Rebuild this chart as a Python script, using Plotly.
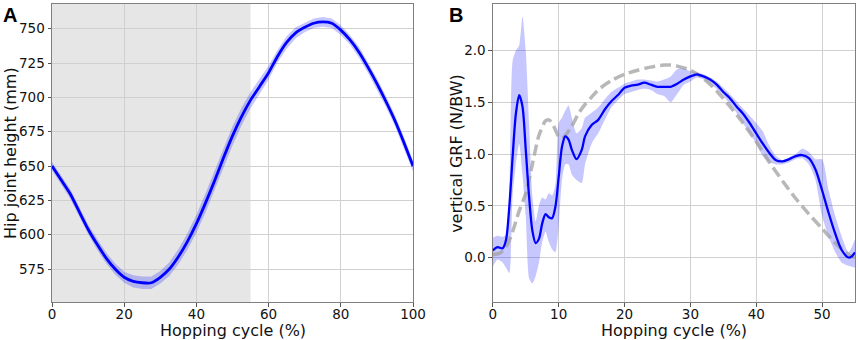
import plotly.graph_objects as go

# ---------- Panel A: hip joint height ----------
cycle_a = [0, 2.5, 5, 7.5, 10, 12.5, 15, 17.5, 20, 22.5, 25, 27.5, 30, 32.5, 35, 37.5, 40,
           42.5, 45, 47.5, 50, 52.5, 55, 57.5, 60, 62.5, 65, 67.5, 70, 72.5, 75, 77.5, 80,
           82.5, 85, 87.5, 90, 92.5, 95, 97.5, 100]
hip_mean = [650, 640, 630, 617, 604, 593, 583, 575, 569, 566, 565, 565, 569, 575, 584, 595, 608,
            623, 639, 656, 672, 686, 698, 708, 718, 730, 740, 747, 751, 754, 755, 754, 749,
            742, 733, 722, 710, 697, 683, 667, 650]
hip_sd = [3, 3, 3.5, 3.5, 3.5, 4, 4, 4, 4, 4.5, 4.5, 4.5, 4.5, 5, 5.5, 6, 6.5,
          7, 7, 7, 7, 6.5, 6, 5.5, 5, 4.5, 4.5, 4, 3.5, 3.5, 3.5, 3.5, 3.5,
          3.5, 4, 4, 4, 4, 4, 4, 4]

# ---------- Panel B: vertical GRF ----------
cycle_b = [0, 0.7, 1.5, 2, 2.5, 3, 3.5, 4, 4.5, 5, 5.5, 6, 6.5, 7, 7.5, 8, 8.5, 9, 9.5, 10,
           10.5, 11, 11.5, 12, 12.7, 13.5, 14, 15, 16, 17, 18, 19, 20, 21, 22, 23, 24, 25,
           26, 27, 28, 29, 30, 31, 32, 33, 34, 35, 36, 37, 38, 39, 40, 41, 42, 43, 44, 45,
           46, 47, 48, 49, 50, 51, 52, 53, 54, 54.5, 55]
grf_mean = [0.07, 0.10, 0.09, 0.17, 0.49, 0.97, 1.39, 1.57, 1.46, 1.04, 0.59, 0.26, 0.14, 0.18,
            0.33, 0.42, 0.39, 0.38, 0.49, 0.78, 1.07, 1.17, 1.14, 1.04, 0.95, 1.04, 1.17, 1.28,
            1.33, 1.43, 1.51, 1.57, 1.64, 1.66, 1.67, 1.69, 1.67, 1.65, 1.65, 1.65, 1.68, 1.72,
            1.75, 1.77, 1.75, 1.72, 1.67, 1.60, 1.54, 1.46, 1.39, 1.30, 1.20, 1.10, 1.01, 0.94,
            0.93, 0.95, 0.98, 0.99, 0.96, 0.85, 0.65, 0.43, 0.23, 0.07, 0.00, 0.01, 0.05]
grf_upper = [0.19, 0.21, 0.20, 0.22, 0.60, 1.90, 2.00, 2.05, 2.33, 2.00, 1.30, 0.60, 0.35, 0.50,
             0.58, 0.56, 0.62, 0.60, 0.70, 1.30, 1.35, 1.42, 1.47, 1.35, 1.20, 1.25, 1.35, 1.40,
             1.45, 1.53, 1.60, 1.64, 1.68, 1.70, 1.72, 1.72, 1.71, 1.70, 1.72, 1.75, 1.82, 1.83,
             1.80, 1.79, 1.77, 1.74, 1.70, 1.64, 1.58, 1.51, 1.44, 1.37, 1.30, 1.22, 1.08, 0.98,
             0.94, 0.97, 1.00, 1.05, 1.02, 0.95, 0.95, 0.65, 0.40, 0.20, 0.05, 0.10, 0.18]
grf_lower = [-0.09, -0.02, -0.05, -0.10, -0.15, 0.60, 0.90, 1.10, 0.80, 0.40, -0.20, -0.25, -0.18,
             -0.05, 0.15, 0.25, 0.15, 0.08, 0.05, 0.30, 0.75, 0.90, 0.90, 0.80, 0.75, 0.72, 0.90,
             1.10, 1.20, 1.33, 1.45, 1.52, 1.58, 1.60, 1.62, 1.63, 1.62, 1.58, 1.56, 1.50, 1.58,
             1.67, 1.70, 1.74, 1.72, 1.68, 1.63, 1.56, 1.48, 1.40, 1.30, 1.20, 1.10, 0.98, 0.92,
             0.90, 0.90, 0.92, 0.95, 0.96, 0.90, 0.75, 0.40, 0.20, 0.05, -0.05, -0.08, -0.09, -0.10]

model_x = [0, 1, 2, 3, 4, 5, 6, 7, 8, 8.5, 9, 10, 10.5, 11, 12, 13, 14, 15, 16, 18, 20, 22, 24,
           26, 27, 28, 30, 32, 34, 36, 38, 40, 42, 44, 46, 48, 50, 52, 54, 55]
model_grf = [0.03, 0.04, 0.10, 0.25, 0.45, 0.62, 0.90, 1.18, 1.32, 1.33, 1.30, 1.17, 1.15, 1.18,
             1.27, 1.39, 1.48, 1.55, 1.62, 1.71, 1.77, 1.81, 1.84, 1.86, 1.86, 1.85, 1.81, 1.73,
             1.61, 1.46, 1.30, 1.12, 0.92, 0.74, 0.57, 0.42, 0.28, 0.14, 0.03, 0.00]

BLUE = "#0000ff"
BAND = "rgba(0,0,255,0.22)"

fig = go.Figure()

# Panel A band
hip_up = [m + s for m, s in zip(hip_mean, hip_sd)]
hip_lo = [m - s for m, s in zip(hip_mean, hip_sd)]
fig.add_trace(go.Scatter(x=cycle_a, y=hip_up, mode="lines", line=dict(width=0),
                         showlegend=False, hoverinfo="skip", xaxis="x", yaxis="y"))
fig.add_trace(go.Scatter(x=cycle_a, y=hip_lo, mode="lines", line=dict(width=0),
                         fill="tonexty", fillcolor=BAND, showlegend=False,
                         hoverinfo="skip", xaxis="x", yaxis="y"))
fig.add_trace(go.Scatter(x=cycle_a, y=hip_mean, mode="lines",
                         line=dict(color=BLUE, width=2.8, shape="spline", smoothing=0.5),
                         showlegend=False, xaxis="x", yaxis="y"))

# Panel B band
fig.add_trace(go.Scatter(x=cycle_b, y=grf_upper, mode="lines",
                         line=dict(width=0, shape="spline", smoothing=0.6),
                         showlegend=False, hoverinfo="skip", xaxis="x2", yaxis="y2"))
fig.add_trace(go.Scatter(x=cycle_b, y=grf_lower, mode="lines",
                         line=dict(width=0, shape="spline", smoothing=0.6),
                         fill="tonexty", fillcolor=BAND, showlegend=False,
                         hoverinfo="skip", xaxis="x2", yaxis="y2"))
fig.add_trace(go.Scatter(x=model_x, y=model_grf, mode="lines",
                         line=dict(color="rgba(160,160,160,0.75)", width=3.5,
                                   dash="11px,5px", shape="spline", smoothing=0.8),
                         showlegend=False, xaxis="x2", yaxis="y2"))
fig.add_trace(go.Scatter(x=cycle_b, y=grf_mean, mode="lines",
                         line=dict(color=BLUE, width=2.3, shape="spline", smoothing=0.8),
                         showlegend=False, xaxis="x2", yaxis="y2"))

FONT = "DejaVu Sans"
axis_common = dict(showgrid=True, gridcolor="#d0d0d0", gridwidth=1,
                   showline=True, linecolor="#7f7f7f", linewidth=1, mirror=True,
                   ticks="outside", ticklen=3.5, tickcolor="#555555",
                   tickfont=dict(family=FONT, size=13.5, color="#111111"),
                   zeroline=False, automargin=False)
xtick_extra = dict(ticklabelstandoff=-4)

fig.update_layout(
    width=858, height=340, autosize=False,
    margin=dict(l=52, r=3, t=4, b=38),
    paper_bgcolor="white", plot_bgcolor="white",
    xaxis=dict(domain=[0, 0.4496], range=[0, 100], tickvals=[0, 20, 40, 60, 80, 100],
               **axis_common, **xtick_extra),
    yaxis=dict(range=[551, 768], tickvals=[575, 600, 625, 650, 675, 700, 725, 750],
               **axis_common),
    xaxis2=dict(domain=[0.549, 1], range=[0, 55], tickvals=[0, 10, 20, 30, 40, 50],
                anchor="y2", **axis_common, **xtick_extra),
    yaxis2=dict(range=[-0.43, 2.45], tickvals=[0.0, 0.5, 1.0, 1.5, 2.0], tickformat=".1f",
                anchor="x2", **axis_common),
    shapes=[dict(type="rect", xref="x", yref="y", x0=0, x1=55, y0=551, y1=768,
                 fillcolor="#e6e6e6", line=dict(width=0), layer="below")],
    annotations=[
        dict(text="Hopping cycle (%)", xref="x domain", yref="paper", x=0.5, y=0, yshift=-28,
             yanchor="middle", showarrow=False, font=dict(family=FONT, size=16, color="#111")),
        dict(text="Hopping cycle (%)", xref="x2 domain", yref="paper", x=0.5, y=0, yshift=-28,
             yanchor="middle", showarrow=False, font=dict(family=FONT, size=16, color="#111")),
        dict(text="Hip joint height (mm)", xref="paper", yref="y domain", x=0, xshift=-42,
             xanchor="center", y=0.5, textangle=-90, showarrow=False,
             font=dict(family=FONT, size=16, color="#111")),
        dict(text="vertical GRF (N/BW)", xref="x2 domain", yref="y2 domain", x=0, xshift=-37,
             xanchor="center", y=0.5, textangle=-90, showarrow=False,
             font=dict(family=FONT, size=16, color="#111")),
        dict(text="<b>A</b>", xref="paper", yref="paper", x=0, xshift=-51, y=1, yshift=2,
             xanchor="left", yanchor="top", showarrow=False,
             font=dict(family="Liberation Sans", size=20, color="black")),
        dict(text="<b>B</b>", xref="x2 domain", yref="paper", x=0, xshift=-46, y=1, yshift=2,
             xanchor="left", yanchor="top", showarrow=False,
             font=dict(family="Liberation Sans", size=20, color="black")),
    ],
)

fig.write_html("out.html", config={"displayModeBar": False},
               post_script="document.body.style.margin='0';")
